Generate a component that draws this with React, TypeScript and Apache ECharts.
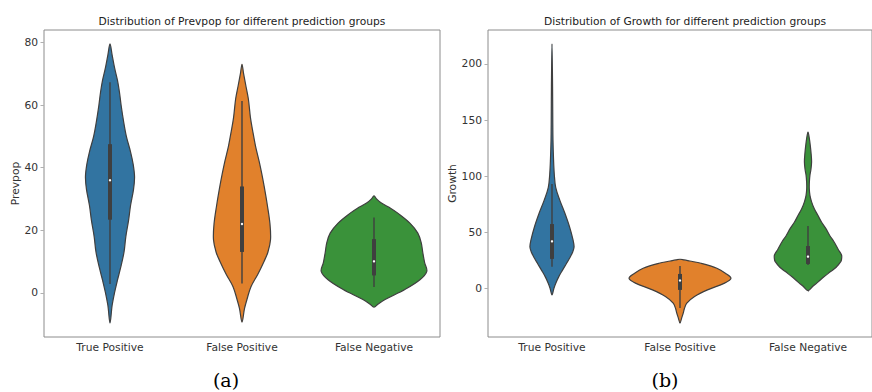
import React, { useEffect, useRef } from "react";
import * as echarts from "echarts";

// Prediction groups shared by both panels
const groups = ["True Positive", "False Positive", "False Negative"];
const groupColors = ["#3274a1", "#e1812c", "#3a923a"];

// Kernel density outlines, [value, density relative to the widest violin of the panel]
const prevpopTP = [
  [79.5, 0], [76, 0.04], [72, 0.085], [68, 0.14], [64, 0.18], [60, 0.21], [55, 0.255],
  [50, 0.31], [45, 0.39], [41, 0.44], [37, 0.465], [33, 0.445], [28, 0.39], [23, 0.35],
  [18, 0.3], [13, 0.265], [8, 0.2], [4, 0.14], [0, 0.085], [-4, 0.04], [-9.6, 0],
];
const prevpopFP = [
  [73, 0], [70, 0.03], [66, 0.075], [62, 0.12], [56, 0.16], [52, 0.2], [47, 0.255],
  [42, 0.325], [38, 0.375], [34, 0.42], [28, 0.48], [22, 0.53], [17, 0.54], [13, 0.49],
  [10, 0.415], [6, 0.3], [2, 0.17], [-2, 0.095], [-5, 0.047], [-9.3, 0],
];
const prevpopFN = [
  [31, 0], [30, 0.05], [28.7, 0.14], [27, 0.32], [25.5, 0.45], [22.3, 0.68], [19.1, 0.83],
  [16, 0.895], [12.8, 0.925], [9.6, 0.96], [6.9, 1.0], [4.2, 0.87], [1.1, 0.585],
  [-2.1, 0.21], [-3.5, 0.08], [-4.5, 0],
];
const growthTP = [
  [217.7, 0], [180, 0.011], [150, 0.015], [132, 0.019], [115, 0.03], [102, 0.044],
  [90, 0.072], [78.7, 0.152], [67, 0.252], [55, 0.342], [43, 0.412], [37, 0.431],
  [32, 0.4], [27, 0.342], [22.5, 0.285], [16, 0.2], [10.6, 0.133], [5, 0.076],
  [0.3, 0.038], [-5.6, 0],
];
const growthFP = [
  [26.1, 0], [25.5, 0.08], [24.5, 0.19], [22.5, 0.41], [18.1, 0.72], [13.7, 0.886],
  [9.2, 0.996], [4.8, 0.87], [-1.2, 0.537], [-7.1, 0.285], [-13, 0.133], [-18, 0.085],
  [-21.9, 0.063], [-26, 0.034], [-30.7, 0],
];
const growthFN = [
  [139.3, 0], [133, 0.028], [127.5, 0.044], [120, 0.061], [112.7, 0.07], [106, 0.057],
  [100.9, 0.038], [95, 0.027], [89.1, 0.025], [83, 0.038], [77.2, 0.07], [71, 0.123],
  [65.4, 0.19], [59, 0.266], [53.6, 0.347], [47, 0.427], [41.7, 0.507], [35, 0.588],
  [29.9, 0.655], [26, 0.655], [24, 0.64], [19, 0.55], [15.1, 0.442], [10, 0.3],
  [6.2, 0.205], [2, 0.095], [-1.8, 0],
];

// Inner box statistics: [lower whisker, Q1, median, Q3, upper whisker]
const prevpopBox = [
  [2.9, 23.4, 36, 47.5, 67.3],
  [3.0, 13.1, 22, 34, 61.3],
  [1.9, 5.6, 10.1, 17.2, 24.1],
];
const growthBox = [
  [19.5, 26.4, 42, 57.4, 93],
  [-17.4, -1.2, 7.1, 13, 20.1],
  [21, 21.9, 28.4, 37.9, 55.6],
];

const prevpopTicks = [0, 20, 40, 60, 80];
const growthTicks = [0, 50, 100, 150, 200];

const prevpopProfiles = [prevpopTP, prevpopFP, prevpopFN];
const growthProfiles = [growthTP, growthFP, growthFN];

// Matplotlib-style 5% padding around the extent of all violins
function paddedRange(profiles: number[][][]): [number, number] {
  let lo = Infinity;
  let hi = -Infinity;
  profiles.forEach((p) =>
    p.forEach(([v]) => {
      lo = Math.min(lo, v);
      hi = Math.max(hi, v);
    })
  );
  const pad = (hi - lo) * 0.05;
  return [lo - pad, hi + pad];
}

const LINE = "#3f3f3f";

function violinRenderer(profiles: number[][][], boxes: number[][]) {
  return (params: any, api: any) => {
    const i = api.value(0);
    const band = api.size([1, 0])[0];
    const halfMax = band * 0.4;
    const cx = api.coord([i, 0])[0];
    const y = (v: number) => api.coord([i, v])[1];
    const prof = profiles[i];
    const right = prof.map(([v, d]) => [cx + d * halfMax, y(v)]);
    const left = prof
      .slice(1, prof.length - 1)
      .reverse()
      .map(([v, d]) => [cx - d * halfMax, y(v)]);
    const [lo, q1, med, q3, hi] = boxes[i];
    const boxW = 4;
    return {
      type: "group",
      children: [
        {
          type: "polygon",
          shape: { points: right.concat(left), smooth: 0.35 },
          style: { fill: groupColors[i], stroke: LINE, lineWidth: 1.2 },
        },
        {
          type: "line",
          shape: { x1: cx, y1: y(hi), x2: cx, y2: y(lo) },
          style: { stroke: LINE, lineWidth: 1.4 },
        },
        {
          type: "rect",
          shape: { x: cx - boxW / 2, y: y(q3), width: boxW, height: y(q1) - y(q3) },
          style: { fill: LINE },
        },
        {
          type: "circle",
          shape: { cx, cy: y(med), r: 1.2 },
          style: { fill: "#ffffff" },
        },
      ],
    };
  };
}

const FONT = "DejaVu Sans";
const TEXT_SIZE = 10.7;

function makeXAxis(gridIndex: number) {
  return {
    gridIndex,
    type: "category",
    data: groups,
    axisLine: { show: false },
    axisTick: { show: true, alignWithLabel: true, length: 3.5, lineStyle: { color: "#b0b0b0" } },
    axisLabel: { color: "#333", fontSize: TEXT_SIZE, fontFamily: FONT, margin: 5 },
    splitLine: { show: false },
  };
}

function makeYAxis(
  gridIndex: number,
  range: [number, number],
  ticks: number[],
  name: string,
  nameGap: number
) {
  return {
    gridIndex,
    type: "value",
    min: range[0],
    max: range[1],
    name,
    nameLocation: "middle",
    nameGap,
    nameTextStyle: { color: "#333", fontSize: TEXT_SIZE, fontFamily: FONT },
    axisLine: { show: false },
    axisTick: { show: true, length: 3.5, customValues: ticks, lineStyle: { color: "#b0b0b0" } },
    axisLabel: { color: "#333", fontSize: TEXT_SIZE, fontFamily: FONT, margin: 6, customValues: ticks },
    splitLine: { show: false },
  };
}

export default function App() {
  const ref = useRef<HTMLDivElement>(null);

  useEffect(() => {
    if (!ref.current) return;
    const chart = echarts.init(ref.current, null, { renderer: "svg" });
    const prevpopRange = paddedRange(prevpopProfiles);
    const growthRange = paddedRange(growthProfiles);
    const gridBase = {
      top: 30,
      width: 396,
      height: 307,
      show: true,
      borderColor: "#8c8c8c",
      borderWidth: 1,
      backgroundColor: "transparent",
    };
    const titleStyle = {
      fontSize: TEXT_SIZE,
      fontWeight: "normal",
      color: "#222",
      fontFamily: FONT,
    };
    chart.setOption({
      animation: false,
      title: [
        {
          text: "Distribution of Prevpop for different prediction groups",
          left: 242,
          top: 16,
          padding: 0,
          textAlign: "center",
          textStyle: titleStyle,
        },
        {
          text: "Distribution of Growth for different prediction groups",
          left: 685,
          top: 16,
          padding: 0,
          textAlign: "center",
          textStyle: titleStyle,
        },
      ],
      grid: [
        { ...gridBase, left: 44 },
        { ...gridBase, left: 488 },
      ],
      xAxis: [makeXAxis(0), makeXAxis(1)],
      yAxis: [
        makeYAxis(0, prevpopRange, prevpopTicks, "Prevpop", 22),
        makeYAxis(1, growthRange, growthTicks, "Growth", 29),
      ],
      series: [
        {
          type: "custom",
          xAxisIndex: 0,
          yAxisIndex: 0,
          data: groups.map((_, i) => [i]),
          renderItem: violinRenderer(prevpopProfiles, prevpopBox),
          clip: true,
        },
        {
          type: "custom",
          xAxisIndex: 1,
          yAxisIndex: 1,
          data: groups.map((_, i) => [i]),
          renderItem: violinRenderer(growthProfiles, growthBox),
          clip: true,
        },
      ],
      graphic: [
        {
          type: "text",
          x: 226,
          y: 380,
          style: {
            text: "(a)",
            fontSize: 19,
            fontFamily: "DejaVu Serif",
            fill: "#000",
            align: "center",
            verticalAlign: "middle",
          },
        },
        {
          type: "text",
          x: 665,
          y: 380,
          style: {
            text: "(b)",
            fontSize: 19,
            fontFamily: "DejaVu Serif",
            fill: "#000",
            align: "center",
            verticalAlign: "middle",
          },
        },
      ],
    });
    return () => chart.dispose();
  }, []);

  return (
    <div
      ref={ref}
      style={{ position: "absolute", left: 0, top: 0, width: 872, height: 392 }}
    />
  );
}
